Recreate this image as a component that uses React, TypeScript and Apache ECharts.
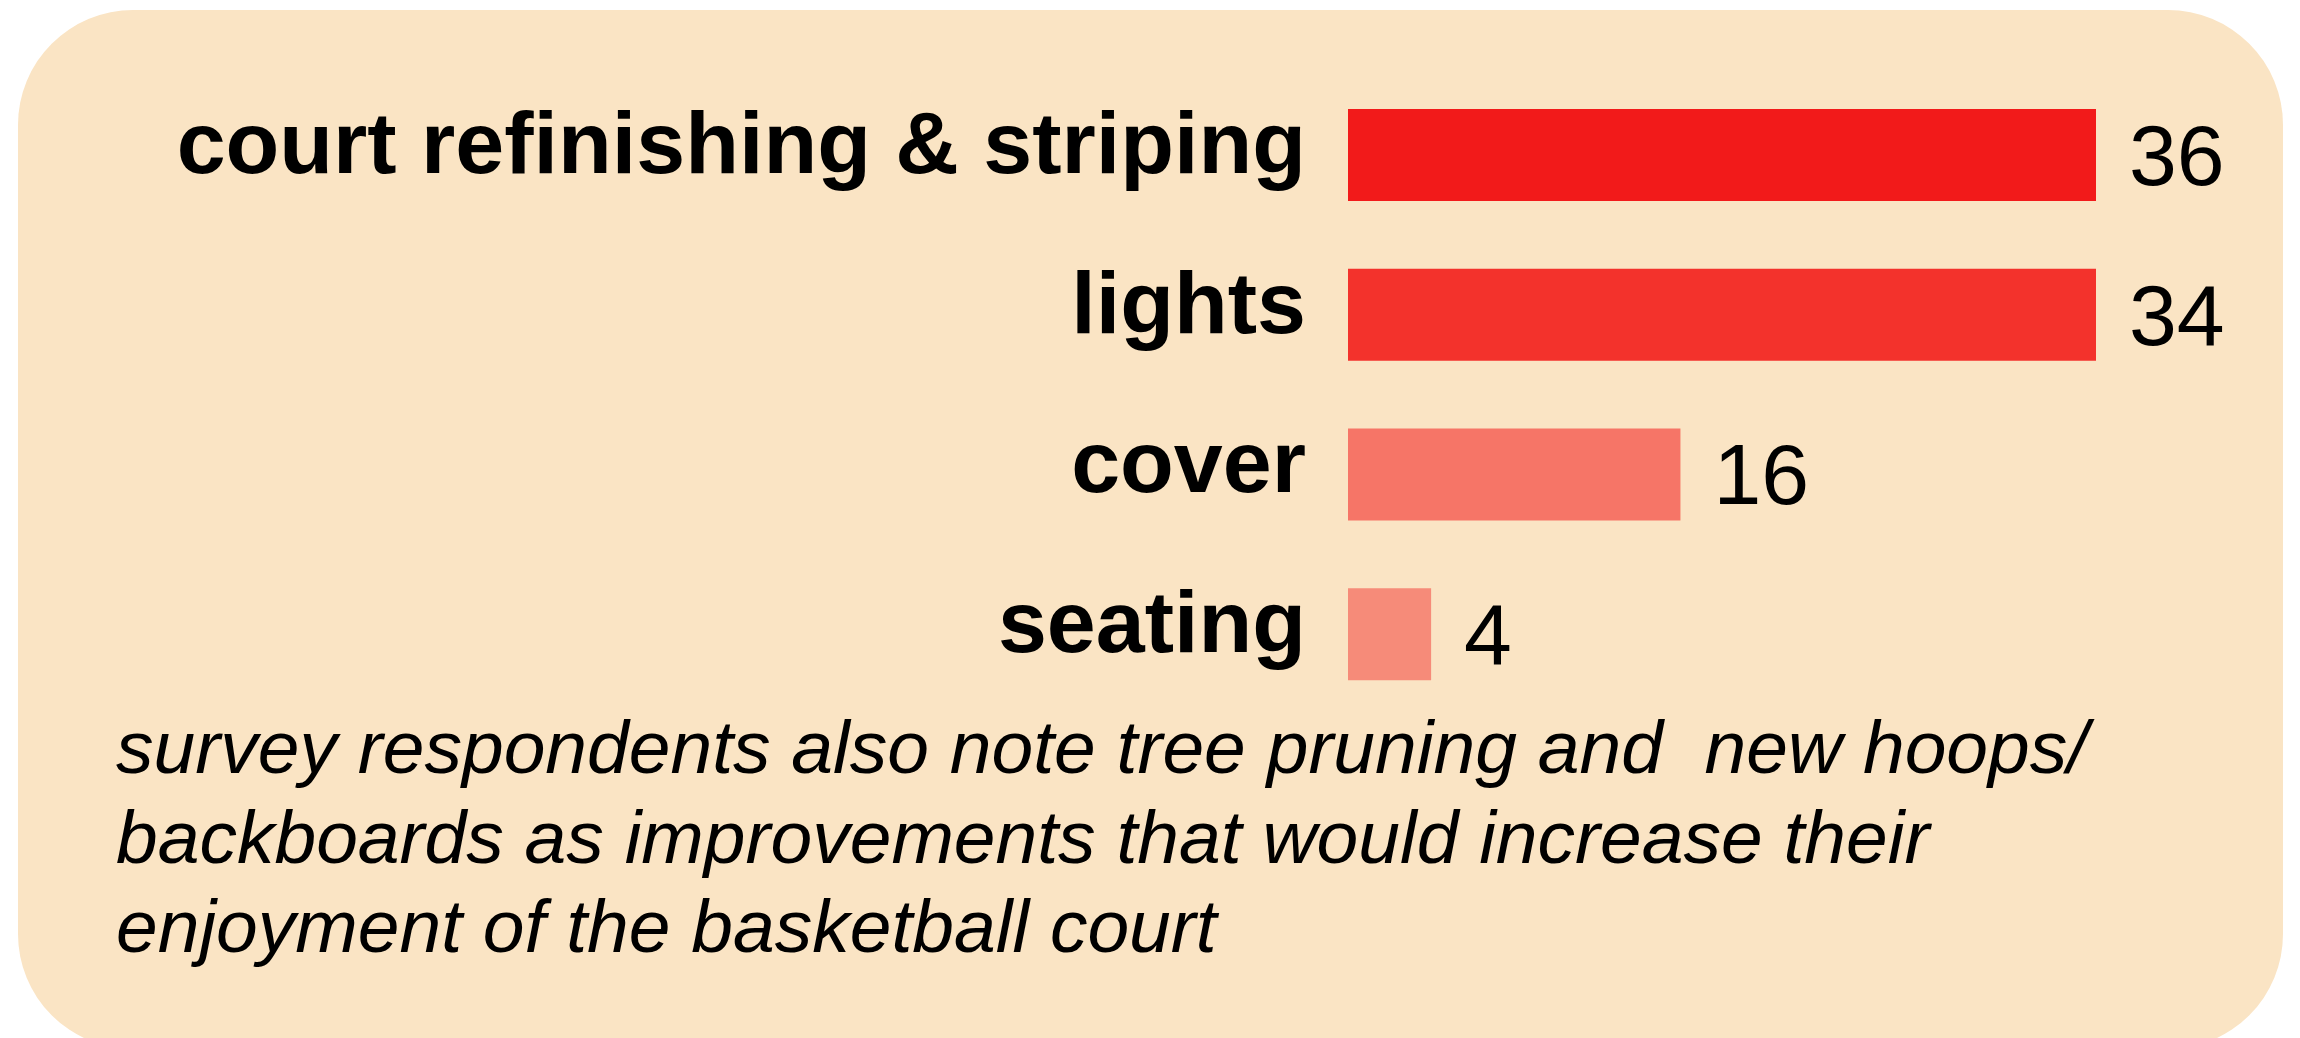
import React, { useEffect, useRef } from "react";
import * as echarts from "echarts";

const categories = ["court refinishing & striping", "lights", "cover", "seating"];
// bar lengths as drawn in the picture (the "lights" bar is drawn as long as the first)
const barValues = [36, 36, 16, 4];
const valueLabels = ["36", "34", "16", "4"];
const barColors = ["#F21A1A", "#F3322C", "#F67567", "#F68B79"];
const noteLines = [
  "survey respondents also note tree pruning and  new hoops/",
  "backboards as improvements that would increase their",
  "enjoyment of the basketball court",
];

const FONT = "'Liberation Sans', Arial, sans-serif";

export default function App() {
  const ref = useRef<HTMLDivElement>(null);
  useEffect(() => {
    if (!ref.current) return;
    const chart = echarts.init(ref.current, undefined, { renderer: "svg" });
    chart.setOption({
      animation: false,
      backgroundColor: "#ffffff",
      grid: { left: 1348, width: 748, top: 75, height: 639 },
      xAxis: {
        type: "value",
        min: 0,
        max: 36,
        show: false,
      },
      yAxis: {
        type: "category",
        data: categories,
        inverse: true,
        axisLine: { show: false },
        axisTick: { show: false },
        splitLine: { show: false },
        axisLabel: {
          fontFamily: FONT,
          fontWeight: "bold",
          fontSize: 88,
          color: "#000000",
          margin: 42,
          formatter: (v: string) => `{a|${v}}`,
          rich: {
            a: {
              fontFamily: FONT,
              fontWeight: "bold",
              fontSize: 88,
              color: "#000000",
              padding: [0, 0, 25, 0],
            },
          },
        },
        z: 5,
      },
      graphic: [
        {
          type: "rect",
          z: -10,
          silent: true,
          shape: { x: 18, y: 10, width: 2265, height: 1039, r: 115 },
          style: { fill: "#FAE4C4" },
        },
        ...noteLines.map((t, i) => ({
          type: "text",
          z: 10,
          x: 116,
          y: 747 + i * 89.5,
          style: {
            text: t,
            fontFamily: FONT,
            fontStyle: "italic",
            fontSize: 75,
            fill: "#000000",
            align: "left",
            verticalAlign: "middle",
          },
        })),
      ],
      series: [
        {
          type: "bar",
          barWidth: 92,
          data: barValues.map((v, i) => ({
            value: v,
            itemStyle: { color: barColors[i] },
          })),
          label: {
            show: true,
            position: "right",
            distance: 33,
            fontFamily: FONT,
            fontSize: 86,
            color: "#000000",
            formatter: (p: any) => valueLabels[p.dataIndex],
          },
        },
      ],
    });
    return () => chart.dispose();
  }, []);
  return (
    <div
      ref={ref}
      style={{ position: "fixed", left: 0, top: 0, width: 2300, height: 1038 }}
    />
  );
}
